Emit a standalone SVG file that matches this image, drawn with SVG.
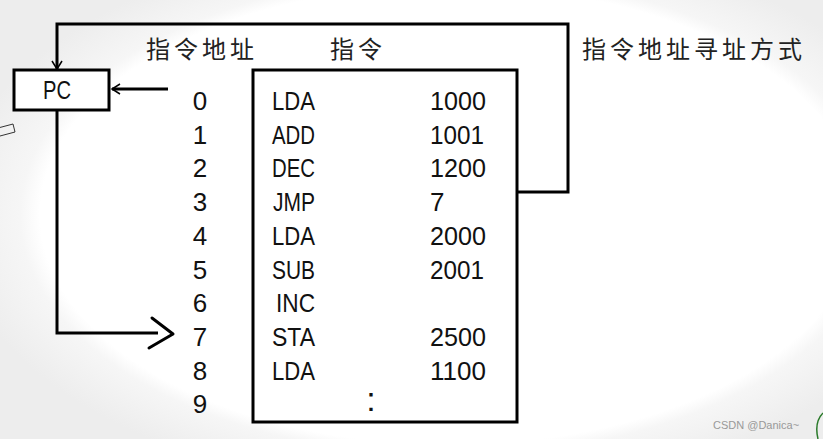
<svg xmlns="http://www.w3.org/2000/svg" width="823" height="439" viewBox="0 0 823 439">
<defs>
<radialGradient id="bg" cx="450" cy="215" r="500" gradientUnits="userSpaceOnUse" gradientTransform="translate(450 215) scale(1 0.56) translate(-450 -215)">
<stop offset="0.82" stop-color="#ffffff"/>
<stop offset="0.86" stop-color="#f6f6f6"/>
<stop offset="1" stop-color="#ededed"/>
</radialGradient>
<marker id="arr" markerWidth="12" markerHeight="12" refX="10" refY="6" orient="auto" markerUnits="userSpaceOnUse">
<path d="M2,1 L10,6 L2,11" fill="none" stroke="#000" stroke-width="1.5"/>
</marker>
<style>
.box{fill:#fff;stroke:#000;stroke-width:3}
.ln{fill:none;stroke:#000;stroke-width:3}
.t{font-family:"Liberation Sans","DejaVu Sans",sans-serif;font-size:26px;fill:#111}
.cjk{font-family:"Noto Sans CJK SC",sans-serif;font-size:24px;fill:#222;letter-spacing:4px}
.num{text-anchor:middle}
</style>
</defs>
<rect width="823" height="439" fill="url(#bg)"/>
<path d="M-2,128 L13,124 L15,132 L0,136" fill="none" stroke="#333" stroke-width="1"/>
<path d="M823,413 Q814,422 818,439" fill="none" stroke="#2a7a2a" stroke-width="1.5"/>
<text x="146" y="58" class="cjk">指令地址</text>
<text x="330" y="58" class="cjk">指令</text>
<text x="582" y="58" class="cjk">指令地址寻址方式</text>
<g id="connectors">
<path class="ln" d="M517,192 H568 V24 H57 V69" marker-end="url(#arr)"/>
<path class="ln" d="M168,89 H112" marker-end="url(#arr)"/>
<path class="ln" d="M57,110 V333 H158" stroke-width="4"/>
<path class="ln" d="M152,318 L173,334 L149,348" stroke-width="2.5" stroke-linejoin="round" stroke-linecap="round"/>
</g>
<g id="pc">
<rect class="box" x="14" y="70" width="95" height="40"/>
<text x="43" y="99" class="t" textLength="28" lengthAdjust="spacingAndGlyphs">PC</text>
</g>
<g id="addresses">
<text x="200" y="110" class="t num">0</text>
<text x="200" y="144" class="t num">1</text>
<text x="200" y="177" class="t num">2</text>
<text x="200" y="211" class="t num">3</text>
<text x="200" y="245" class="t num">4</text>
<text x="200" y="279" class="t num">5</text>
<text x="200" y="312" class="t num">6</text>
<text x="200" y="346" class="t num">7</text>
<text x="200" y="380" class="t num">8</text>
<text x="200" y="413" class="t num">9</text>
</g>
<g id="memory">
<rect class="box" x="253" y="70" width="264" height="352"/>
<g class="t">
<text x="272" y="110" textLength="43" lengthAdjust="spacingAndGlyphs">LDA</text>
<text x="272" y="144" textLength="43" lengthAdjust="spacingAndGlyphs">ADD</text>
<text x="272" y="177" textLength="43" lengthAdjust="spacingAndGlyphs">DEC</text>
<text x="273" y="211" textLength="42" lengthAdjust="spacingAndGlyphs">JMP</text>
<text x="272" y="245" textLength="43" lengthAdjust="spacingAndGlyphs">LDA</text>
<text x="272" y="279" textLength="43" lengthAdjust="spacingAndGlyphs">SUB</text>
<text x="276" y="312" textLength="39" lengthAdjust="spacingAndGlyphs">INC</text>
<text x="272" y="346" textLength="43" lengthAdjust="spacingAndGlyphs">STA</text>
<text x="272" y="380" textLength="43" lengthAdjust="spacingAndGlyphs">LDA</text>
<text x="430" y="110" textLength="56" lengthAdjust="spacingAndGlyphs">1000</text>
<text x="430" y="144" textLength="54" lengthAdjust="spacingAndGlyphs">1001</text>
<text x="430" y="177" textLength="56" lengthAdjust="spacingAndGlyphs">1200</text>
<text x="430" y="211">7</text>
<text x="430" y="245" textLength="56" lengthAdjust="spacingAndGlyphs">2000</text>
<text x="430" y="279" textLength="54" lengthAdjust="spacingAndGlyphs">2001</text>
<text x="430" y="346" textLength="56" lengthAdjust="spacingAndGlyphs">2500</text>
<text x="430" y="380" textLength="56" lengthAdjust="spacingAndGlyphs">1100</text>
<text x="371" y="411" text-anchor="middle" font-size="34">:</text>
</g>
</g>
<text x="713" y="429" font-family="Liberation Sans, sans-serif" font-size="11" fill="#999">CSDN @Danica~</text>
</svg>
